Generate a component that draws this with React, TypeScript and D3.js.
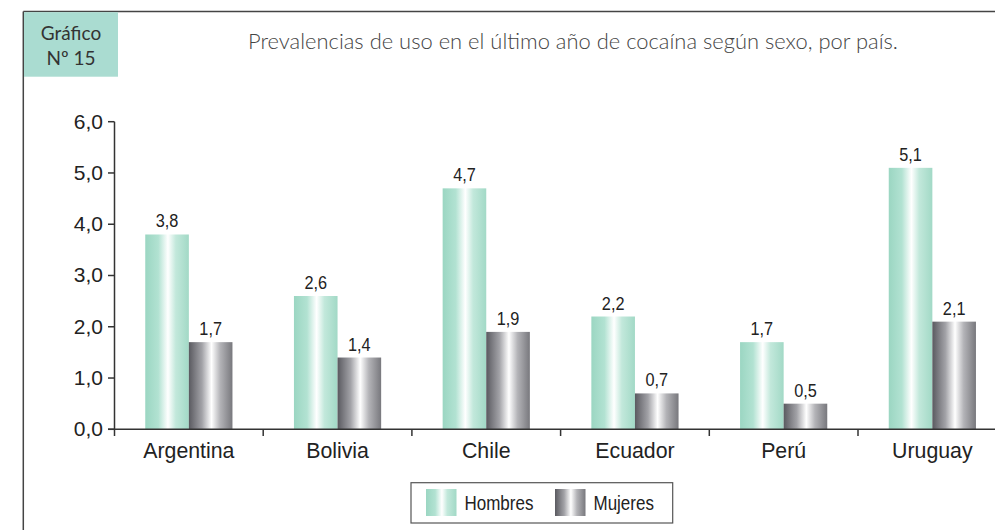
import React from "react";
import * as d3 from "d3";

const categories = ["Argentina", "Bolivia", "Chile", "Ecuador", "Perú", "Uruguay"];
const hombres = [3.8, 2.6, 4.7, 2.2, 1.7, 5.1];
const mujeres = [1.7, 1.4, 1.9, 0.7, 0.5, 2.1];
const seriesNames = ["Hombres", "Mujeres"];
const yTicks = [0, 1, 2, 3, 4, 5, 6];
const title = "Prevalencias de uso en el último año de cocaína según sexo, por país.";

const W = 995;
const H = 530;
const fmt = (v: number) => v.toFixed(1).replace(".", ",");

export default function App() {
  const x0 = 114.5;
  const band = 148.7;
  const x = d3
    .scaleBand<string>()
    .domain(categories)
    .range([x0, x0 + band * categories.length])
    .paddingInner(0)
    .paddingOuter(0);
  const y = d3.scaleLinear().domain([0, 6]).range([429.3, 121.7]);
  const barW = 43.6;
  const series = [hombres, mujeres];
  const fills = ["url(#gH)", "url(#gM)"];
  const arial = "'Liberation Sans', Arial, Helvetica, sans-serif";
  const gill = "Lato, 'Open Sans', sans-serif";

  return (
    <svg
      width={W}
      height={H}
      style={{ position: "absolute", left: 0, top: 0, background: "#fff" }}
    >
      <defs>
        <linearGradient id="gH" x1="0" x2="1" y1="0" y2="0">
          <stop offset="0%" stopColor="#9bd6c2" />
          <stop offset="30%" stopColor="#b2e2d2" />
          <stop offset="52%" stopColor="#ffffff" />
          <stop offset="70%" stopColor="#c2e8db" />
          <stop offset="100%" stopColor="#a2d9c6" />
        </linearGradient>
        <linearGradient id="gM" x1="0" x2="1" y1="0" y2="0">
          <stop offset="0%" stopColor="#5a5a60" />
          <stop offset="30%" stopColor="#a2a2a7" />
          <stop offset="52%" stopColor="#ffffff" />
          <stop offset="72%" stopColor="#b3b3b7" />
          <stop offset="100%" stopColor="#78787d" />
        </linearGradient>
      </defs>

      {/* frame */}
      <line x1={23.3} x2={W} y1={11.5} y2={11.5} stroke="#444" strokeWidth={1.5} />
      <line x1={23.3} x2={23.3} y1={11.5} y2={H} stroke="#444" strokeWidth={1.5} />

      {/* Gráfico box */}
      <rect x={24} y={12.2} width={94} height={64.5} fill="#aadcd1" />
      <text x={71} y={39.5} textAnchor="middle" fontFamily={gill} fontSize={19} fill="#333">
        Gráfico
      </text>
      <text x={71} y={65} textAnchor="middle" fontFamily={gill} fontSize={19} fill="#333">
        Nº 15
      </text>

      {/* title */}
      <text
        x={248}
        y={48.5}
        fontFamily={gill}
        fontWeight={300}
        fontSize={22}
        fill="#444"
        textLength={650}
        lengthAdjust="spacingAndGlyphs"
      >
        {title}
      </text>

      {/* bars */}
      {categories.map((c, i) => {
        const cx = (x(c) as number) + x.bandwidth() / 2;
        return (
          <g key={c}>
            {series.map((s, j) => {
              const bx = cx - barW + j * barW;
              const by = y(s[i]);
              return (
                <g key={j}>
                  <rect x={bx} y={by} width={barW} height={y(0) - by} fill={fills[j]} />
                  <text
                    transform={`translate(${bx + barW / 2},${by - 7}) scale(0.88,1)`}
                    textAnchor="middle"
                    fontFamily={arial}
                    fontSize={18.5}
                    fill="#222"
                  >
                    {fmt(s[i])}
                  </text>
                </g>
              );
            })}
          </g>
        );
      })}

      {/* y axis */}
      <line x1={x0} x2={x0} y1={y(6)} y2={436} stroke="#333" strokeWidth={1.5} />
      {yTicks.map((t) => (
        <g key={t}>
          <line x1={108} x2={x0} y1={y(t)} y2={y(t)} stroke="#333" strokeWidth={1.5} />
          <text
            x={103}
            y={y(t)}
            dy="0.33em"
            textAnchor="end"
            fontFamily={arial}
            fontSize={21}
            fill="#222"
          >
            {fmt(t)}
          </text>
        </g>
      ))}

      {/* x axis */}
      <line x1={108} x2={W} y1={y(0)} y2={y(0)} stroke="#333" strokeWidth={1.5} />
      {categories.map((c, i) => (
        <g key={c}>
          {i > 0 && (
            <line
              x1={x(c) as number}
              x2={x(c) as number}
              y1={y(0)}
              y2={436}
              stroke="#333"
              strokeWidth={1.5}
            />
          )}
          <text
            x={(x(c) as number) + x.bandwidth() / 2}
            y={457.5}
            textAnchor="middle"
            fontFamily={arial}
            fontSize={21.3}
            fill="#222"
          >
            {c}
          </text>
        </g>
      ))}

      {/* legend */}
      <rect x={411} y={482.7} width={261.7} height={40.3} fill="#fff" stroke="#555" strokeWidth={1.2} />
      {seriesNames.map((n, j) => {
        const lx = 426 + j * 129;
        return (
          <g key={n}>
            <rect x={lx} y={489} width={30.5} height={27} fill={fills[j]} />
            <text
              transform={`translate(${lx + 38.5},${509.5}) scale(0.85,1)`}
              fontFamily={arial}
              fontSize={20}
              fill="#222"
            >
              {n}
            </text>
          </g>
        );
      })}
    </svg>
  );
}
